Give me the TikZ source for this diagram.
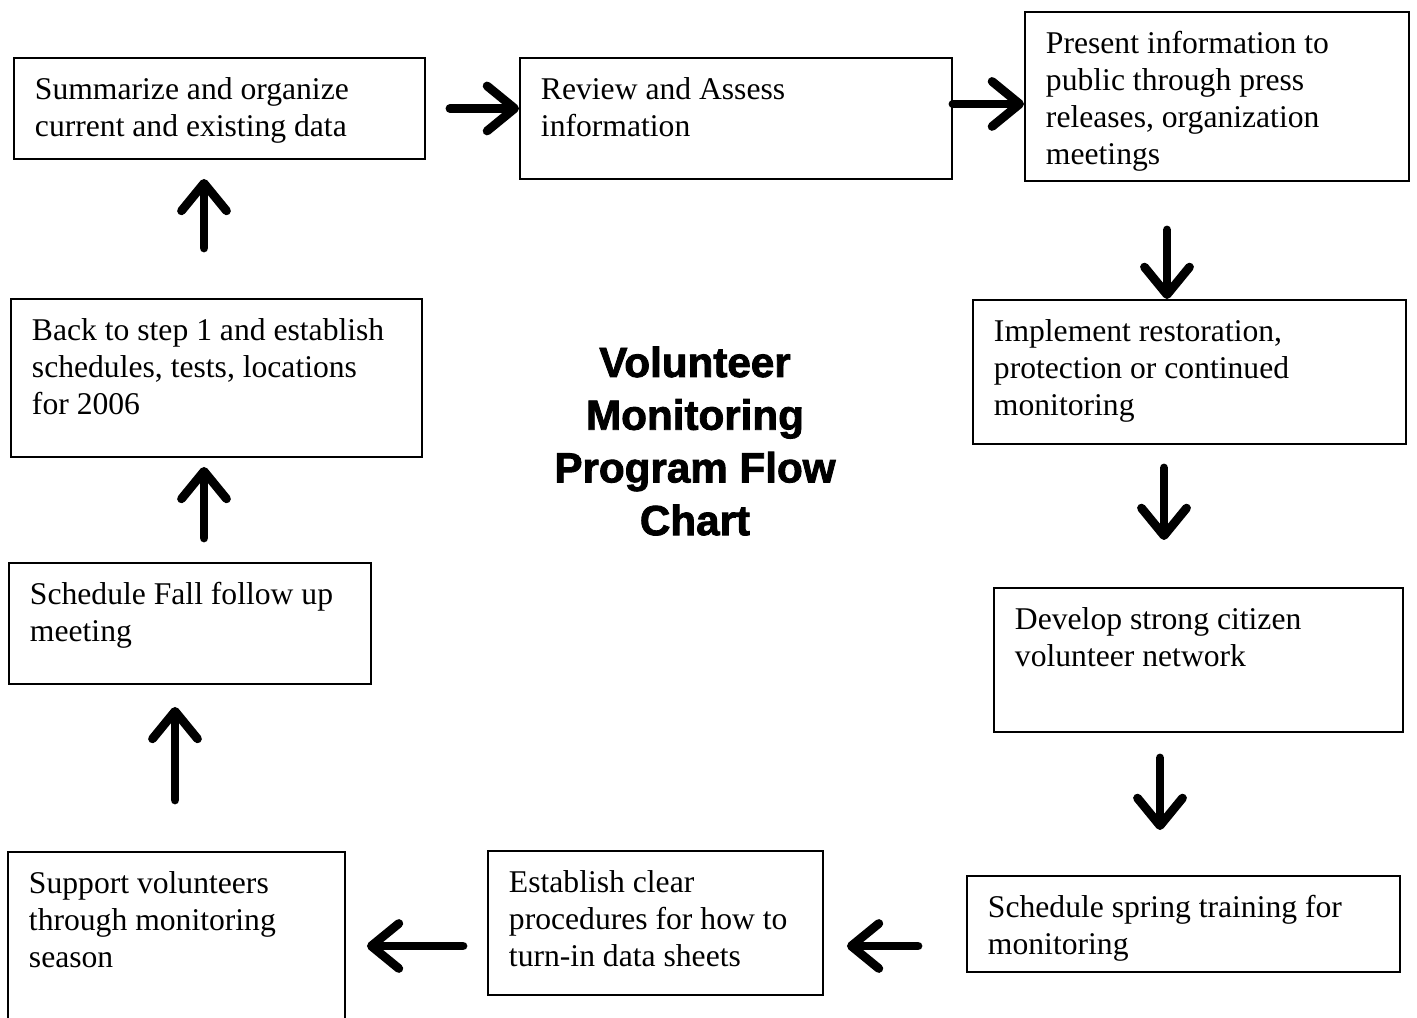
\documentclass[tikz,border=0pt]{standalone}
\usepackage{fontspec}
\setmainfont{Liberation Serif}
\newfontfamily\titlefont[BoldFeatures={FakeBold=2}]{Liberation Sans}
\usepackage{tikz}
\usetikzlibrary{arrows.meta, positioning}

% text block of a stage box: width, height, lines
\newcommand{\stagetext}[3]{\parbox[t][#2][t]{#1}{\raggedright #3}}

\begin{document}
\begin{tikzpicture}[
    stage/.style={draw, line width=1.1pt, anchor=north west, inner xsep=0.42cm, inner ysep=0.39cm, font=\fontsize{18}{21}\selectfont},
    arr/.style={-{Straight Barb[length=0.55cm, width=0.9cm, round]}, line width=5pt, line cap=round},
    title/.style={font=\titlefont\bfseries\fontsize{24}{30}\selectfont, align=center}
]
\useasboundingbox (0,0) rectangle (28.34,20.34);
\clip (0,0) rectangle (28.34,20.34);

% Top row
\node[stage] (b1) at (0.26, 19.20) {\stagetext{7.38cm}{1.24cm}{Summarize and organize\\current and existing data}};
\node[stage] (b2) at (10.38, 19.20) {\stagetext{7.80cm}{1.64cm}{Review and Assess\\information}};
\node[stage] (b3) at (20.48, 20.12) {\stagetext{6.84cm}{2.60cm}{Present information to\\public through press\\releases, organization\\meetings}};

% Right column
\node[stage] (b4) at (19.44, 14.36) {\stagetext{7.82cm}{2.10cm}{Implement restoration,\\protection or continued\\monitoring}};
\node[stage] (b5) at (19.86, 8.60) {\stagetext{7.34cm}{2.10cm}{Develop strong citizen\\volunteer network}};
\node[stage] (b6) at (19.32, 2.84) {\stagetext{7.82cm}{1.14cm}{Schedule spring training for\\monitoring}};

% Bottom row
\node[stage] (b7) at (9.74, 3.34) {\stagetext{5.86cm}{2.10cm}{Establish clear\\procedures for how to\\turn-in data sheets}};
\node[stage] (b8) at (0.14, 3.32) {\stagetext{5.90cm}{2.72cm}{Support volunteers\\through monitoring\\season}};

% Left column
\node[stage] (b9) at (0.16, 9.10) {\stagetext{6.40cm}{1.64cm}{Schedule Fall follow up\\meeting}};
\node[stage] (b10) at (0.20, 14.38) {\stagetext{7.38cm}{2.38cm}{Back to step 1 and establish\\schedules, tests, locations\\for 2006}};

% Title
\node[title] (head) at (13.90, 11.52) {Volunteer\\Monitoring\\Program Flow\\Chart};

% Arrows round the cycle
\draw[arr, shorten <=0.48cm] (b1.east) -- (b1.east -| b2.west);
\draw[arr] ([yshift=0.29cm]b2.east) -- ([yshift=0.29cm]b2.east -| b3.west);
\draw[arr, shorten <=0.96cm] (b3.south -| 23.34,0) -- (b4.north -| 23.34,0);
\draw[arr, shorten <=0.46cm, shorten >=0.94cm] (b4.south -| 23.28,0) -- (b5.north -| 23.28,0);
\draw[arr, shorten <=0.50cm, shorten >=0.90cm] (b5.south -| 23.20,0) -- (b6.north -| 23.20,0);
\draw[arr, shorten <=0.96cm, shorten >=0.46cm] (b6.west |- 0,1.42) -- (b7.east |- 0,1.42);
\draw[arr, shorten <=0.48cm, shorten >=0.42cm] (b7.west |- 0,1.42) -- (b8.east |- 0,1.42);
\draw[arr, shorten <=1.02cm, shorten >=0.44cm] (b8.north -| 3.50,0) -- (b9.south -| 3.50,0);
\draw[arr, shorten <=0.48cm, shorten >=0.18cm] (b9.north -| 4.08,0) -- (b10.south -| 4.08,0);
\draw[arr, shorten <=1.00cm, shorten >=0.38cm] (b10.north -| 4.08,0) -- (b1.south -| 4.08,0);

\end{tikzpicture}
\end{document}
